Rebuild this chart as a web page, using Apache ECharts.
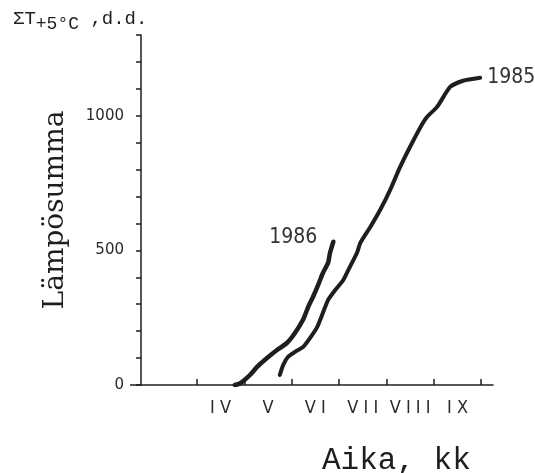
<!DOCTYPE html>
<html>
<head>
<meta charset="utf-8">
<script src="https://cdn.jsdelivr.net/npm/echarts@6/dist/echarts.min.js"></script>
<style>html,body{margin:0;padding:0;background:#fff}#c{width:535px;height:473px}</style>
</head>
<body>
<div id="c"></div>
<script>
// Month axis: value 4 = start of April, 10 = start of October
const monthTicks = [4, 5, 6, 7, 8, 9, 10];
const monthLabelPos = [4.5, 5.5, 6.5, 7.5, 8.5, 9.5];
const monthLabels = ['I V', 'V', 'V I', 'V I I', 'V I I I', 'I X'];
const yLabels = [0, 500, 1000];

const months1986 = [4.80, 4.90, 4.98, 5.12, 5.27, 5.48, 5.69, 5.90, 6.07, 6.24, 6.35, 6.45, 6.56, 6.66, 6.77, 6.81, 6.88];
const values1986 = [0, 5, 15, 37, 67, 100, 130, 156, 193, 242, 290, 327, 372, 416, 454, 491, 532];

const months1985 = [5.75, 5.82, 5.92, 6.07, 6.24, 6.39, 6.54, 6.66, 6.77, 6.92, 7.09, 7.23, 7.38, 7.45, 7.66, 7.87, 8.08, 8.29, 8.50, 8.71, 8.86, 9.07, 9.35, 9.62, 9.98];
const values1985 = [37, 74, 104, 123, 141, 175, 216, 268, 316, 353, 390, 439, 491, 528, 587, 651, 725, 810, 885, 955, 996, 1033, 1108, 1130, 1141];

const pairs = (xs, ys) => xs.map((x, i) => [x, ys[i]]);
const ink = '#1e1e1e';
const yearFont = "'DejaVu Sans Condensed','Liberation Sans',sans-serif";

const chart = echarts.init(document.getElementById('c'));
chart.setOption({
  backgroundColor: '#fff',
  animation: false,
  title: [{
    left: 8, top: 4,
    text: '{a|ΣT}{b|+5°C}{a| ,d.d.}',
    textStyle: {
      rich: {
        a: {fontFamily: "'Liberation Mono',monospace", fontSize: 19, fontWeight: 'normal', color: ink, lineHeight: 24, verticalAlign: 'top'},
        b: {fontFamily: "'Liberation Mono',monospace", fontSize: 18, fontWeight: 'normal', color: ink, lineHeight: 24, verticalAlign: 'bottom', padding: [7, 0, 0, 0]}
      }
    }
  }, {
    left: 317, top: 440,
    text: 'Aika, kk',
    textStyle: {fontFamily: "'Liberation Mono',monospace", fontSize: 31, fontWeight: 'normal', color: ink}
  }],
  grid: {left: 141, right: 42, top: 35, bottom: 88},
  xAxis: {
    type: 'value', min: 2.82, max: 10.25,
    axisLine: {show: true, onZero: false, lineStyle: {color: ink, width: 1.5}},
    axisTick: {show: true, inside: true, length: 6, customValues: monthTicks, lineStyle: {color: ink, width: 1.5}},
    axisLabel: {
      customValues: monthLabelPos,
      formatter: v => monthLabels[monthLabelPos.indexOf(v)] || '',
      margin: 14, fontFamily: "'DejaVu Sans Condensed','DejaVu Sans',sans-serif", fontSize: 18, color: '#2a2a2a'
    },
    splitLine: {show: false}
  },
  yAxis: {
    type: 'value', min: 0, max: 1300, interval: 100,
    name: 'Lämpösumma', nameLocation: 'middle', nameRotate: 90, nameGap: 71,
    nameTextStyle: {fontFamily: "'DejaVu Serif',serif", fontSize: 28, color: ink},
    axisLine: {show: true, lineStyle: {color: ink, width: 1.5}},
    axisTick: {show: true, length: 5, lineStyle: {color: ink, width: 1.5}},
    axisLabel: {customValues: yLabels, formatter: v => String(v), margin: 17, fontFamily: "'DejaVu Sans',sans-serif", fontSize: 15, color: '#2a2a2a'},
    splitLine: {show: false}
  },
  series: [{
    name: '1986', type: 'line', data: pairs(months1986, values1986),
    showSymbol: false, smooth: 0.2,
    lineStyle: {color: ink, width: 4.5, cap: 'round', join: 'round'},
    endLabel: {show: true, formatter: '1986', align: 'right', distance: 0, offset: [-16, -4],
      fontFamily: yearFont, fontSize: 21, color: '#333'}
  }, {
    name: '1985', type: 'line', data: pairs(months1985, values1985),
    showSymbol: false, smooth: 0.2,
    lineStyle: {color: ink, width: 4, cap: 'round', join: 'round'},
    endLabel: {show: true, formatter: '1985', distance: 7,
      fontFamily: yearFont, fontSize: 21, color: '#333'}
  }]
});
// short extension of the x-axis line to the left of the y-axis
const p0 = chart.convertToPixel({gridIndex: 0}, [2.82, 0]);
chart.setOption({graphic: [{type: 'line', shape: {x1: p0[0] - 11, y1: p0[1], x2: p0[0], y2: p0[1]}, style: {stroke: ink, lineWidth: 1.5}}]});
</script>
</body>
</html>
